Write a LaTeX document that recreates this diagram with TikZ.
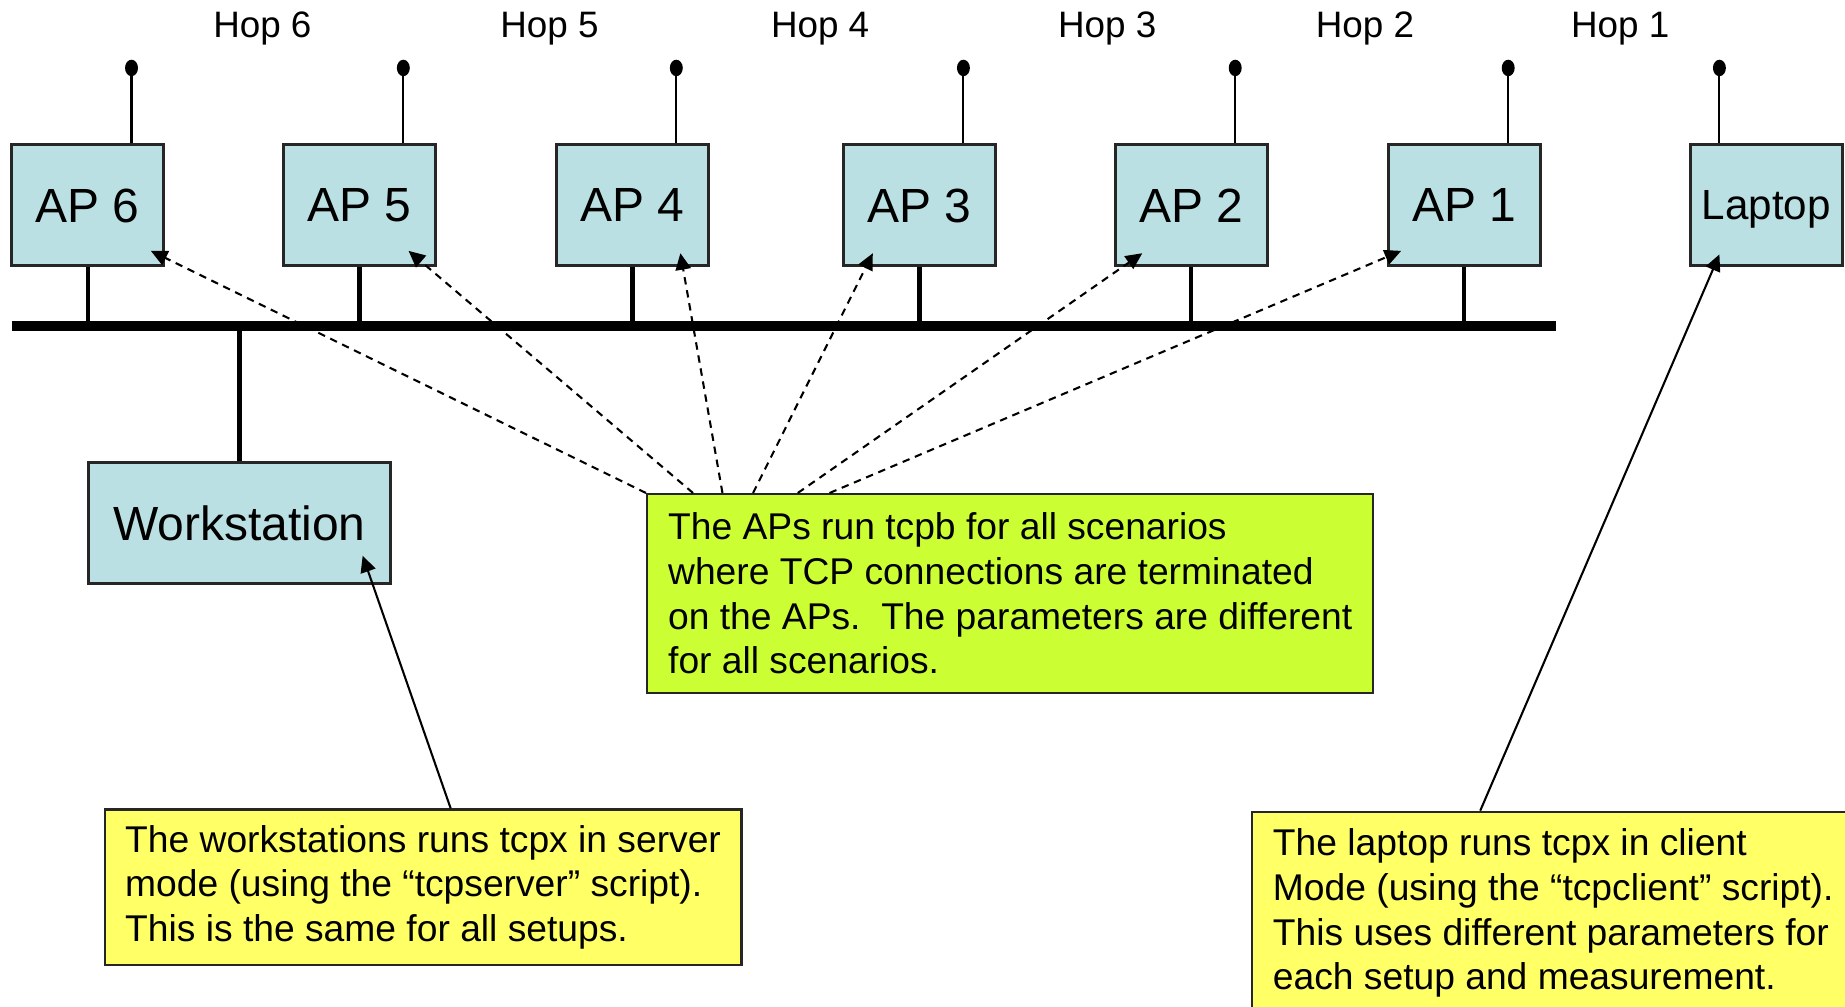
\documentclass[tikz,border=0pt]{standalone}
\usepackage{fontspec}
\setmainfont{Liberation Sans}
\usetikzlibrary{arrows.meta,calc}

\definecolor{apblue}{HTML}{BBE0E3}
\definecolor{notegreen}{HTML}{CCFF33}
\definecolor{noteyellow}{HTML}{FFFF66}

\begin{document}
\begin{tikzpicture}[x=0.1mm,y=-0.1mm]
  \tikzstyle{box}=[draw=black!85,line width=0.7pt,fill=apblue,minimum width=12.9mm,minimum height=10.3mm,inner sep=0pt,text depth=0pt,font=\fontsize{11.6}{14}\selectfont]
  \tikzstyle{note}=[draw=black!85,line width=0.6pt,anchor=north west,align=left,inner sep=0pt,font=\fontsize{9}{10.8}\selectfont]
  \tikzstyle{hint}=[line width=0.5pt,dash pattern=on 1.8pt off 1.4pt,-{Triangle[length=1.4mm,width=1.3mm]}]
  \tikzstyle{pointer}=[line width=0.5pt,-{Triangle[length=1.4mm,width=1.3mm]}]
  \clip (0,0) rectangle (1568,855);
  \fill[white] (0,0) rectangle (1568,855);
  % the wire
  \coordinate (busL) at (10,277);
  \coordinate (busR) at (1322,277);
  \draw[line width=2.6pt] (busL) -- (busR);
  \foreach \h / \x in {6/223,5/467,4/697,3/941,2/1160,1/1377}
     \node[font=\fontsize{8.9}{10}\selectfont] (hop\h) at (\x,24) {Hop \h};
  \foreach \n / \x in {6/74.5,5/305.5,4/537.5,3/781.5,2/1012.5,1/1244.5} {
     \node[box] (ap\n) at (\x,174.5) {AP \n};
     \draw[line width=0.5pt] ($(ap\n.north west)+(103,0)$) -- ++(0,-64) coordinate (ant\n);
     \fill (ant\n) ellipse (5.5 and 7);
     \draw[line width=1pt] (ap\n.south) -- (ap\n.south |- busL);
  }
  \node[box,font=\fontsize{10.2}{12}\selectfont] (laptop) at (1501,174.5) {Laptop};
  \draw[line width=0.5pt] ($(laptop.north west)+(26,0)$) -- ++(0,-64) coordinate (antL);
  \fill (antL) ellipse (5.5 and 7);
  \node[box,minimum width=25.7mm] (ws) at (203.5,444.5) {Workstation};
  \draw[line width=1pt] (ws.north) -- (ws.north |- busL);
  % notes
  \node[note,fill=notegreen,minimum width=61.7mm,minimum height=16.9mm] (tcpb) at (549,419)
     {The APs run tcpb for all scenarios\\where TCP connections are terminated\\on the APs.\ \ The parameters are different\\for all scenarios.};
  \node[note,fill=noteyellow,minimum width=54.1mm,minimum height=13.2mm] (wsnote) at (88,687)
     {The workstations runs tcpx in server\\mode (using the “tcpserver” script).\\This is the same for all setups.};
  \node[note,fill=noteyellow,minimum width=51.2mm,minimum height=17.2mm] (lapnote) at (1063,689)
     {The laptop runs tcpx in client\\Mode (using the “tcpclient” script).\\This uses different parameters for\\each setup and measurement.};
  \foreach \n / \dx / \anc / \ox / \oy in {6/0/south east/-12/-14,5/40/south east/-24/-14,4/65/south east/-25/-12,3/91/south west/26/-12,2/129/south west/24/-12,1/156/south west/12/-14}
     \draw[hint] ($(tcpb.north west)+(\dx,0)$) -- ($(ap\n.\anc)+(\ox,\oy)$);
  \draw[pointer] ($(wsnote.north west)+(295,0)$) -- ($(ws.south east)+(-25,-25)$);
  \draw[pointer] ($(lapnote.north west)+(195,0)$) -- ($(laptop.south west)+(26,-11)$);
\end{tikzpicture}
\end{document}
